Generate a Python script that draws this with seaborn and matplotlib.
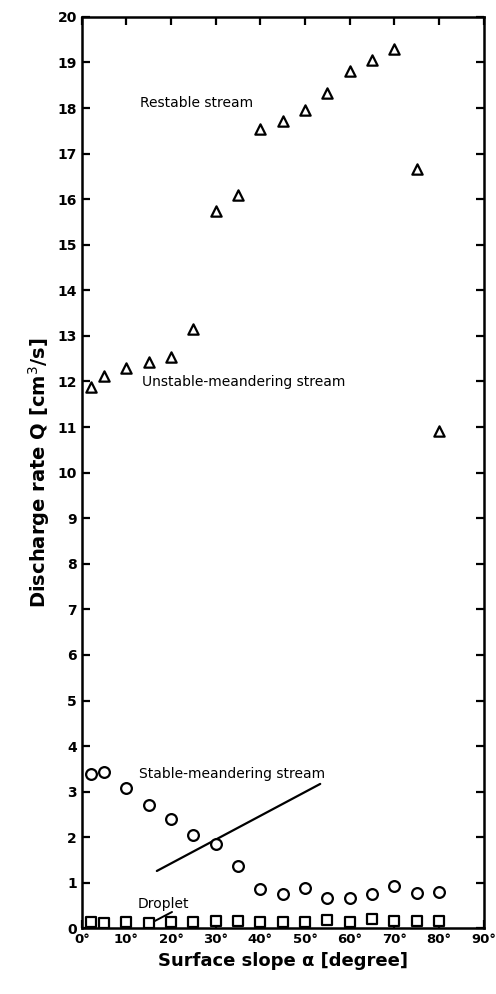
import numpy as np
import pandas as pd
import matplotlib
matplotlib.use('Agg')
import matplotlib.pyplot as plt
import seaborn as sns

# Surface slope (degree) and discharge rate Q (cm^3/s)
slope = [2, 5, 10, 15, 20, 25, 30, 35, 40, 45, 50, 55, 60, 65, 70, 75, 80]

# triangles: unstable-meandering / restable stream
q_stream = [11.88, 12.12, 12.29, 12.43, 12.54, 13.15, 15.75, 16.09, 17.53, 17.72,
            17.96, 18.32, 18.81, 19.06, 19.30, 16.66, 10.91]
# circles: stable-meandering stream
q_meander = [3.38, 3.43, 3.07, 2.70, 2.41, 2.04, 1.86, 1.36, 0.87, 0.75,
             0.88, 0.66, 0.67, 0.75, 0.94, 0.77, 0.80]
# squares: droplet
q_droplet = [0.13, 0.12, 0.13, 0.12, 0.14, 0.15, 0.17, 0.16, 0.15, 0.15,
             0.15, 0.18, 0.14, 0.20, 0.17, 0.17, 0.17]

xticks = [0, 10, 20, 30, 40, 50, 60, 70, 80, 90]
xticklabels = [str(t) + '°' for t in xticks]
yticks = list(range(0, 21))

df = pd.DataFrame({'slope': slope * 3,
                   'Q': q_stream + q_meander + q_droplet,
                   'regime': ['stream'] * 17 + ['meander'] * 17 + ['droplet'] * 17})

sns.set_style('ticks', {'axes.edgecolor': 'black', 'text.color': 'black',
                        'xtick.color': 'black', 'ytick.color': 'black',
                        'axes.labelcolor': 'black'})
plt.rcParams['font.family'] = ['DejaVu Sans']

fig = plt.figure(figsize=(4.96, 9.94), dpi=100)
ax = fig.add_axes([0.165, 0.066, 0.81, 0.917])

# leader lines first, so markers sit on top
ax.plot([16.8, 53.4], [1.26, 3.17], color='black', lw=1.6, zorder=1)
ax.plot([16.1, 20.2], [0.15, 0.36], color='black', lw=1.4, zorder=1)

sns.scatterplot(data=df[df.regime == 'stream'], x='slope', y='Q', marker='^',
                s=55, color='white', edgecolor='black', linewidth=1.6, ax=ax, zorder=3)
sns.scatterplot(data=df[df.regime == 'meander'], x='slope', y='Q', marker='o',
                s=60, color='white', edgecolor='black', linewidth=1.6, ax=ax, zorder=3)
sns.scatterplot(data=df[df.regime == 'droplet'], x='slope', y='Q', marker='s',
                s=50, color='white', edgecolor='black', linewidth=1.6, ax=ax, zorder=3)

ax.text(13.0, 18.1, 'Restable stream', fontsize=10, va='center', ha='left')
ax.text(13.5, 11.98, 'Unstable-meandering stream', fontsize=10, va='center', ha='left')
ax.text(12.7, 3.38, 'Stable-meandering stream', fontsize=10, va='center', ha='left')
ax.text(12.6, 0.53, 'Droplet', fontsize=10, va='center', ha='left')

ax.set_xlim(0, 90)
ax.set_ylim(0, 20)
ax.set_xticks(xticks)
ax.set_xticklabels(xticklabels, fontweight='bold', fontsize=9.5)
ax.set_yticks(yticks)
ax.set_yticklabels([str(t) for t in yticks], fontweight='bold', fontsize=10)
ax.tick_params(direction='in', length=6, width=1.6, top=True, right=True,
               labeltop=False, labelright=False)
for sp in ax.spines.values():
    sp.set_linewidth(1.8)

ax.set_xlabel('Surface slope α [degree]', fontweight='bold', fontsize=13)
ax.set_ylabel('Discharge rate Q [cm$^3$/s]', fontweight='bold', fontsize=14)

fig.savefig('out.png', dpi=100)
